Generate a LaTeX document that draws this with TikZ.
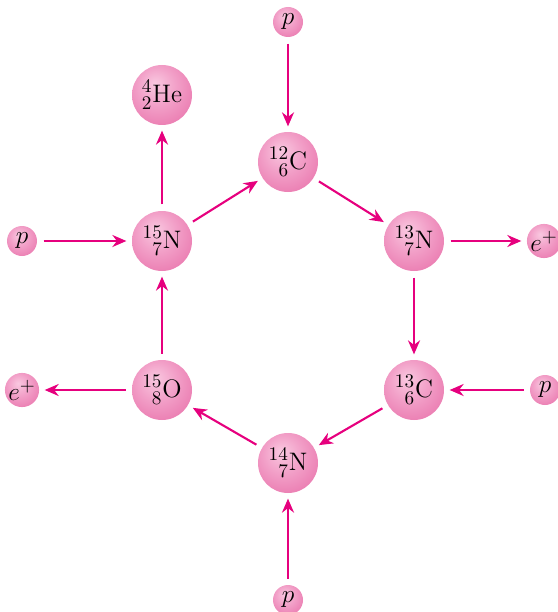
\documentclass[tikz,border=0pt]{standalone}
\usepackage{amsmath,amssymb}
\usepackage{mathtools}
\usepackage{xcolor}
\usetikzlibrary{arrows.meta,positioning}

\definecolor{arrowpink}{RGB}{230,0,126}
\definecolor{ballhi}{RGB}{249,200,224}
\definecolor{ballmid}{RGB}{242,160,200}
\definecolor{balledge}{RGB}{233,116,172}
\pgfdeclareradialshading{pinkball}{\pgfpoint{-6bp}{10bp}}{color(0bp)=(ballhi); color(16bp)=(ballmid); color(36bp)=(balledge); color(60bp)=(balledge!95!black)}

\newcommand{\iso}[3]{$\prescript{#1}{#2}{\mathrm{#3}}$}

\begin{document}
\begin{tikzpicture}[
    nucleus/.style={circle, shading=pinkball, minimum size=1.2cm, inner sep=0pt, font=\fontsize{15}{17}\selectfont},
    particle/.style={circle, shading=pinkball, minimum size=0.6cm, inner sep=0pt, font=\fontsize{15}{17}\selectfont},
    arrow/.style={-{Stealth[length=2.8mm,width=2.4mm]}, line width=1.2pt, draw=arrowpink, shorten <=3.5pt, shorten >=3pt}
]
\useasboundingbox (0,0) rectangle (11.14,-12.24);

% CNO cycle nuclei
\node[nucleus] (c12) at (5.76,-3.24) {\iso{12}{6}{C}};
\node[nucleus] (n13) at (8.28,-4.82) {\iso{13}{7}{N}};
\node[nucleus] (c13) at (8.28,-7.80) {\iso{13}{6}{C}};
\node[nucleus] (n14) at (5.76,-9.26) {\iso{14}{7}{N}};
\node[nucleus] (o15) at (3.24,-7.80) {\iso{15}{8}{O}};
\node[nucleus] (n15) at (3.24,-4.82) {\iso{15}{7}{N}};
\node[nucleus] (he4) at (3.24,-1.90) {\iso{4}{2}{He}};

% Protons in, positrons out
\node[particle] (p-top) at (5.76,-0.44) {$p$};
\node[particle] (p-right) at (10.90,-7.80) {$p$};
\node[particle] (p-bottom) at (5.76,-12.0) {$p$};
\node[particle] (p-left) at (0.44,-4.82) {$p$};
\node[particle] (e-right) at (10.88,-4.82) {$e^{+}$};
\node[particle] (e-left) at (0.44,-7.80) {$e^{+}$};

% Arrows
\draw[arrow] (c12) -- (n13);
\draw[arrow] (n13) -- (c13);
\draw[arrow] (c13) -- (n14);
\draw[arrow] (n14) -- (o15);
\draw[arrow] (o15) -- (n15);
\draw[arrow] (n15) -- (c12);
\draw[arrow] (n15) -- (he4);

\draw[arrow] (p-top) -- (c12);
\draw[arrow] (p-right) -- (c13);
\draw[arrow] (p-bottom) -- (n14);
\draw[arrow] (p-left) -- (n15);
\draw[arrow] (n13) -- (e-right);
\draw[arrow] (o15) -- (e-left);

\end{tikzpicture}
\end{document}
